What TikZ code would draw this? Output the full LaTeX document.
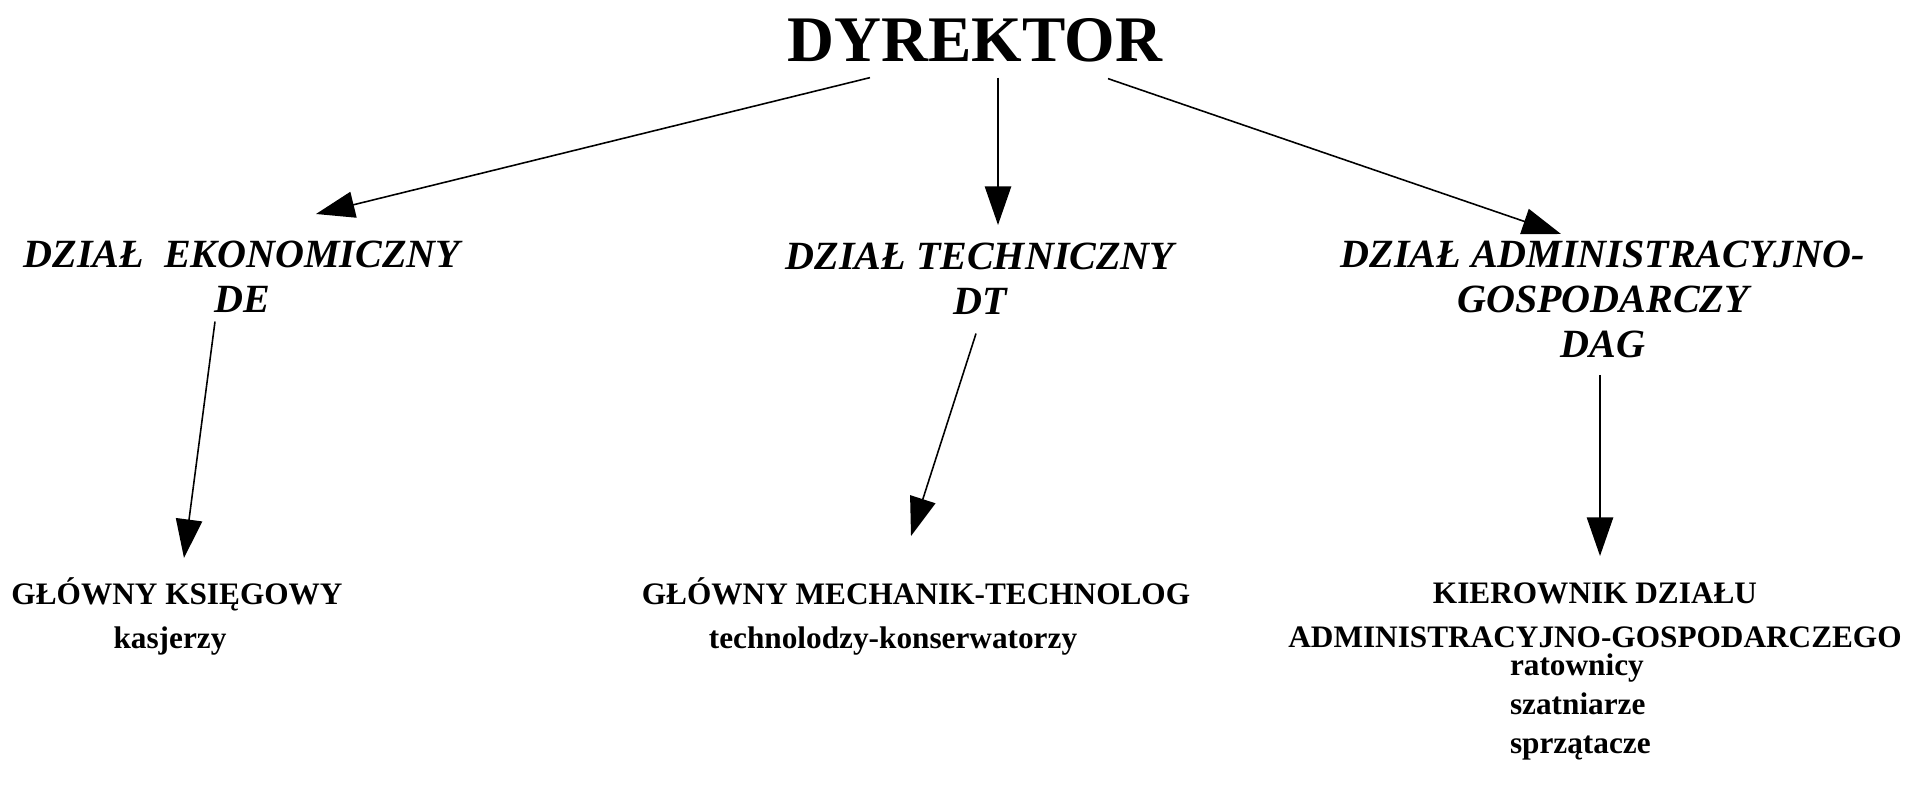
\documentclass[tikz,border=0pt]{standalone}
\usepackage{fontspec}
\setmainfont{Liberation Serif}
\usepackage{tikz}
\usetikzlibrary{positioning,arrows.meta,calc}

\begin{document}
\begin{tikzpicture}[x=0.02cm,y=-0.02cm,
  every node/.style={inner sep=0pt,outer sep=0pt},
  boss/.style={font=\bfseries\fontsize{37}{40}\selectfont},
  dept/.style={align=center,font=\bfseries\itshape\fontsize{22.8}{25.6}\selectfont},
  post/.style={align=center,font=\bfseries\fontsize{17.8}{25}\selectfont},
  staff/.style={align=left,font=\bfseries\fontsize{17.8}{22.2}\selectfont},
  arr/.style={-{Triangle[length=22pt,width=15pt]},line width=0.9pt}]
  \useasboundingbox (0,0) rectangle (1909,804);
  \node[boss,anchor=base] (dyr) at (975,62) {DYREKTOR};
  \node[dept,anchor=north] (eko) at (242,241) {DZIAŁ\ \ EKONOMICZNY\\DE};
  \node[dept,anchor=north] (tech) at (980,243) {DZIAŁ TECHNICZNY\\DT};
  \node[dept,anchor=north] (adm) at (1603,241) {DZIAŁ ADMINISTRACYJNO-\\GOSPODARCZY\\DAG};
  \node[post,anchor=base] (ksg) at (177,604) {GŁÓWNY KSIĘGOWY};
  \node[post,anchor=base] (kas) at (170,648) {kasjerzy};
  \node[post,anchor=base] (mech) at (916,604) {GŁÓWNY MECHANIK-TECHNOLOG};
  \node[post,anchor=base] (tk) at (893,648) {technolodzy-konserwatorzy};
  \node[post,anchor=north] (kier) at (1595,583) {KIEROWNIK DZIAŁU\\ADMINISTRACYJNO-GOSPODARCZEGO};
  \node[staff,anchor=north west] (prac) at (1510,654) {ratownicy\\szatniarze\\sprzątacze};
  % od dyrektora do dzialow
  \draw[arr] ($(dyr.south)+(-105,15)$) -- ($(eko.north)+(74,-27)$);
  \draw[arr] ($(dyr.south)+(23,15)$) -- ($(tech.north)+(18,-18)$);
  \draw[arr] ($(dyr.south)+(133,16)$) -- ($(adm.north)+(-42,-7)$);
  % z dzialow do kierownikow
  \draw[arr] ($(eko.south)+(-27,9)$) -- ($(ksg.base)+(7,-46)$);
  \draw[arr] ($(tech.south)+(-4,19)$) -- ($(mech.base)+(-5,-68)$);
  \draw[arr] ($(adm.south)+(-3,17)$) -- ($(kier.north)+(5,-27)$);
\end{tikzpicture}
\end{document}
